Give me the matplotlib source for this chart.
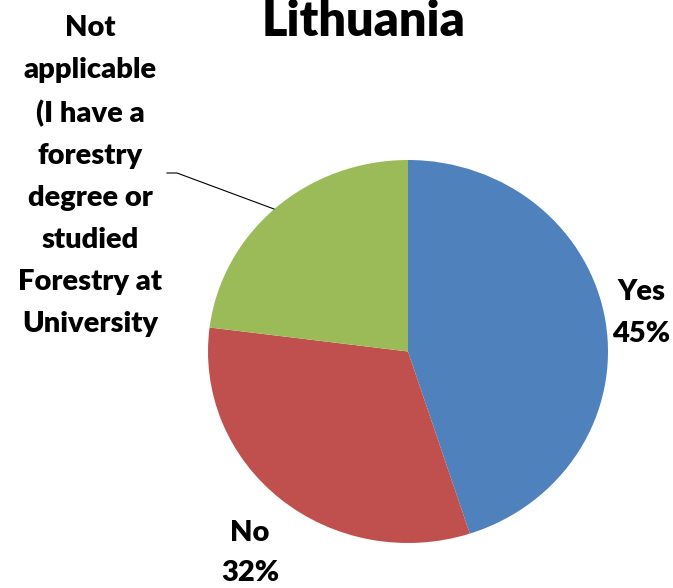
import matplotlib
matplotlib.use("Agg")
import matplotlib.pyplot as plt

# survey answers, clockwise from 12 o'clock
categories = ["Yes", "No",
              "Not applicable (I have a forestry degree or studied Forestry at University"]
shares = [45, 32, 23]
colors = ["#4F81BD", "#C0504D", "#9BBB59"]

W, H = 673, 588
fig = plt.figure(figsize=(W / 100, H / 100), dpi=100)

# pie sits in its own box (slightly wider than tall)
left, bottom, pw, ph = 208, H - 543, 400, 383
pax = fig.add_axes([left / W, bottom / H, pw / W, ph / H])
pax.pie(shares, colors=colors, startangle=90, counterclock=False,
        radius=1, wedgeprops=dict(linewidth=0))
pax.set_aspect("auto")
pax.set_xlim(-1, 1)
pax.set_ylim(-1, 1)
pax.axis("off")

# overlay in pixel units for the text and the leader line
ax = fig.add_axes([0, 0, 1, 1], facecolor="none")
ax.set_xlim(0, W)
ax.set_ylim(0, H)
ax.axis("off")

font = dict(family=["Lato", "DejaVu Sans"], weight="heavy", color="black")
ax.text(364, H - 21, "Lithuania", ha="center", va="center", fontsize=35, **font)

ax.text(641, H - 313, f"{categories[0]}\n{shares[0]}%", ha="center", va="center",
        fontsize=21, linespacing=1.76, **font)
ax.text(250, H - 553, f"{categories[1]}\n{shares[1]}%", ha="center", va="center",
        fontsize=21, linespacing=1.7, **font)

wrapped = "Not\napplicable\n(I have a\nforestry\ndegree or\nstudied\nForestry at\nUniversity"
ax.text(90, H - 176, wrapped, ha="center", va="center",
        fontsize=21, linespacing=1.76, **font)

# leader line for the wrapped label
ax.plot([167, 177, 274], [H - 173, H - 173, H - 209], color="black", lw=0.8)

fig.savefig("out.png", dpi=100)
